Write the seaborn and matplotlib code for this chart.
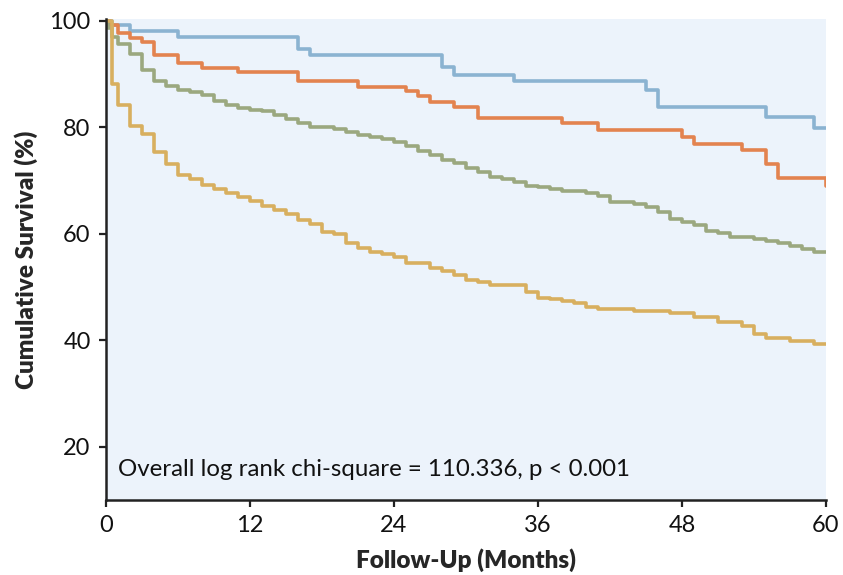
import numpy as np
import pandas as pd
import seaborn as sns
import matplotlib
matplotlib.use("Agg")
import matplotlib.pyplot as plt

# Kaplan-Meier step values (months, % surviving)
blue_t = [0, 0.5, 2, 6, 16, 17, 28, 29, 34, 45, 46, 55, 59, 60]
blue_s = [100, 99.2, 98.1, 97.0, 94.6, 93.6, 91.3, 89.8, 88.6, 86.9, 83.7, 81.9, 79.9, 79.9]

orange_t = [0, 0.3, 1, 2, 3, 4, 6, 8, 11, 16, 21, 25, 26, 27, 29, 31, 38, 41, 48, 49, 53, 55, 56, 60]
orange_s = [100, 99.2, 97.6, 96.7, 95.9, 93.6, 92.0, 91.1, 90.3, 88.6, 87.6, 86.8, 85.8, 84.8,
            83.8, 81.8, 80.7, 79.5, 78.1, 76.9, 75.7, 73.0, 70.4, 68.9]

green_t = [0, 0.2, 0.5, 1, 2, 3, 4, 5, 6, 7, 8, 9, 10, 11, 12, 13, 14, 15, 16, 17, 18, 19, 20,
           21, 22, 23, 24, 25, 26, 27, 28, 29, 30, 31, 32, 33, 34, 35, 36, 37, 38, 40, 41, 42,
           44, 45, 46, 47, 48, 49, 50, 51, 52, 54, 55, 56, 57, 58, 59, 60]
green_s = [100, 98.6, 96.9, 95.6, 93.8, 90.8, 88.6, 87.7, 86.9, 86.6, 86.0, 84.9, 84.1, 83.6,
           83.3, 83.1, 82.3, 81.6, 80.8, 80.1, 80.0, 79.6, 79.1, 78.5, 78.1, 77.8, 77.2, 76.4,
           75.5, 74.7, 73.9, 73.2, 72.4, 71.5, 70.7, 70.2, 69.7, 69.0, 68.7, 68.4, 68.0, 67.6,
           67.1, 66.0, 65.5, 65.0, 64.1, 62.7, 62.2, 61.6, 60.5, 60.1, 59.3, 59.0, 58.7, 58.2,
           57.7, 57.1, 56.5, 56.5]

yellow_t = [0, 0.5, 1, 2, 3, 4, 5, 6, 7, 8, 9, 10, 11, 12, 13, 14, 15, 16, 17, 18, 19, 20,
            21, 22, 23, 24, 25, 27, 28, 29, 30, 31, 32, 35, 36, 37, 38, 39, 40, 41, 44, 47,
            49, 51, 53, 54, 55, 57, 59, 60]
yellow_s = [100, 88.0, 84.1, 80.3, 78.7, 75.3, 73.0, 71.0, 70.2, 69.1, 68.3, 67.7, 66.8, 66.1,
            65.2, 64.4, 63.7, 62.5, 61.9, 60.3, 59.9, 58.3, 57.4, 56.6, 56.2, 55.6, 54.4, 53.5,
            52.9, 52.2, 51.3, 51.0, 50.4, 49.0, 47.9, 47.8, 47.4, 46.9, 46.3, 45.9, 45.5, 45.1,
            44.4, 43.4, 42.7, 41.2, 40.4, 39.9, 39.3, 39.3]

groups = ["Group 1", "Group 2", "Group 3", "Group 4"]
colors = ["#8BB3D1", "#E3834F", "#9BA87F", "#D8AF5F"]

frames = []
for g, t, s in zip(groups, [blue_t, orange_t, green_t, yellow_t], [blue_s, orange_s, green_s, yellow_s]):
    frames.append(pd.DataFrame({"months": t, "survival": s, "group": g}))
df = pd.concat(frames, ignore_index=True)

sns.set_style("ticks")
plt.rcParams["font.family"] = ["Lato", "DejaVu Sans"]

fig = plt.figure(figsize=(8.43, 5.75), dpi=100)
ax = fig.add_axes([0.1257, 0.1304, 0.8541, 0.8366])
ax.set_facecolor("#ECF3FB")

sns.lineplot(data=df, x="months", y="survival", hue="group", palette=colors,
             estimator=None, sort=False, drawstyle="steps-post", linewidth=2.6,
             legend=False, ax=ax)

ax.set_xlim(0, 60)
ax.set_ylim(10, 100.3)
ax.set_xticks([0, 12, 24, 36, 48, 60])
ax.set_yticks([20, 40, 60, 80, 100])
ax.tick_params(axis="both", direction="out", length=5, width=1.6, color="#222222",
               labelsize=17, pad=6, labelcolor="#111111")
for side in ["top", "right"]:
    ax.spines[side].set_visible(False)
for side in ["left", "bottom"]:
    ax.spines[side].set_linewidth(1.8)
    ax.spines[side].set_color("#222222")

ax.set_xlabel("Follow-Up (Months)", fontsize=17.5, fontweight="heavy", labelpad=9)
ax.set_ylabel("Cumulative Survival (%)", fontsize=17.5, fontweight="heavy", labelpad=8)

ax.text(1.0, 15.7, "Overall log rank chi-square = 110.336, p < 0.001",
        fontsize=17.3, ha="left", va="center", color="#111111")

fig.savefig("out.png", dpi=100)
